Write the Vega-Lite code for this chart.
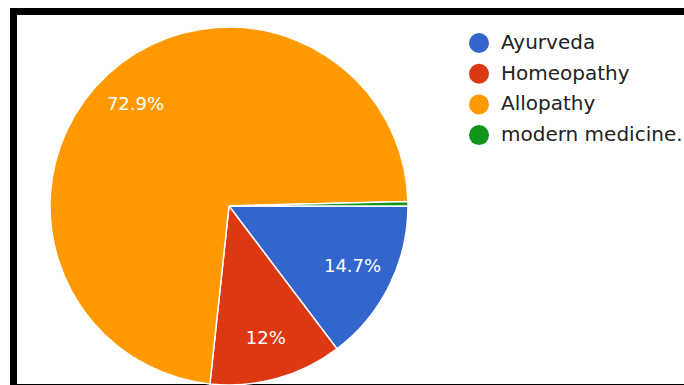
{
  "$schema": "https://vega.github.io/schema/vega-lite/v6.json",
  "width": 700,
  "height": 376,
  "autosize": "none",
  "padding": {"left": 13.5, "top": 11.5, "right": 0, "bottom": 0},
  "background": "white",
  "config": {
    "view": {"stroke": "black", "strokeWidth": 7},
    "font": "DejaVu Sans"
  },
  "data": {
    "values": [
      {"category": "Ayurveda", "value": 14.7},
      {"category": "Homeopathy", "value": 12},
      {"category": "Allopathy", "value": 72.9},
      {"category": "modern medicine.", "value": 0.4}
    ]
  },
  "transform": [
    {"window": [{"op": "row_number", "as": "idx"}]},
    {"calculate": "format(datum.value, '.3~') + '%'", "as": "label"}
  ],
  "layer": [
    {
      "mark": {"type": "arc", "stroke": "white", "strokeWidth": 1.5, "radius": 179},
      "encoding": {
        "x": {"value": 215.5},
        "y": {"value": 194.5},
        "theta": {"field": "value", "type": "quantitative", "stack": true, "scale": {"domain": [0, 100], "range": [1.5708, 7.854]}},
        "order": {"field": "idx", "type": "quantitative"},
        "color": {
          "field": "category",
          "type": "nominal",
          "sort": null,
          "scale": {
            "domain": ["Ayurveda", "Homeopathy", "Allopathy", "modern medicine."],
            "range": ["#3366cc", "#dc3912", "#ff9900", "#109618"]
          },
          "legend": {
            "title": null,
            "orient": "none",
            "legendX": 455.5,
            "legendY": 21.5,
            "padding": 0,
            "symbolType": "circle",
            "symbolSize": 400,
            "symbolStrokeWidth": 0,
            "labelFont": "DejaVu Sans",
            "labelFontSize": 20,
            "labelColor": "#222222",
            "labelOffset": 12,
            "rowPadding": 10.7,
            "labelLimit": 300
          }
        }
      }
    },
    {
      "transform": [{"filter": "datum.value > 5"}],
      "mark": {"type": "text", "radius": 138, "fontSize": 18, "color": "white", "font": "DejaVu Sans", "align": "center", "baseline": "middle"},
      "encoding": {
        "x": {"value": 215.5},
        "y": {"value": 194.5},
        "theta": {"field": "value", "type": "quantitative", "stack": true, "scale": {"domain": [0, 100], "range": [1.5708, 7.854]}},
        "order": {"field": "idx", "type": "quantitative"},
        "text": {"field": "label", "type": "nominal"}
      }
    }
  ]
}
